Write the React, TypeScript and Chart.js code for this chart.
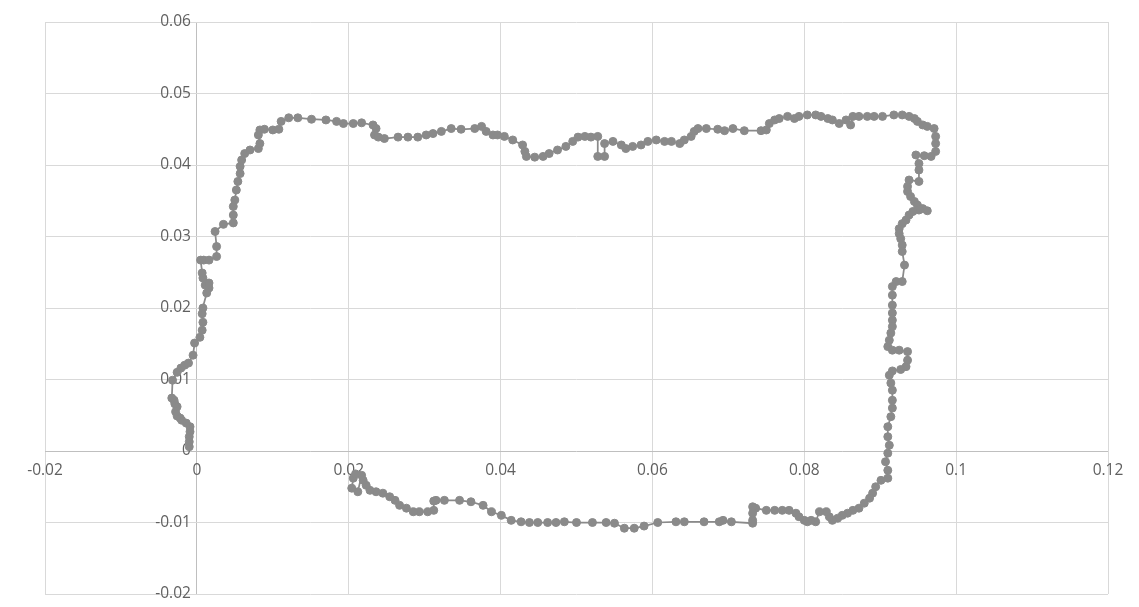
import { useEffect, useRef } from 'react';
import { Chart, registerables } from 'chart.js';

Chart.register(...registerables);

const xValues = [
  -0.0010, -0.0010, -0.0010, -0.0009, -0.0009, -0.0014, -0.0020, -0.0022, -0.0026, -0.0028,
  -0.0026, -0.0029, -0.0030, -0.0033, -0.0032, -0.0026, -0.0021, -0.0016, -0.0011, -0.0005,
  -0.0003, 0.0004, 0.0007, 0.0008, 0.0007, 0.0008, 0.0013, 0.0016, 0.0011, 0.0016,
  0.0008, 0.0007, 0.0005, 0.0009, 0.0016, 0.0026, 0.0026, 0.0024, 0.0035, 0.0048,
  0.0048, 0.0048, 0.0050, 0.0052, 0.0054, 0.0057, 0.0057, 0.0059, 0.0063, 0.0070,
  0.0081, 0.0083, 0.0081, 0.0083, 0.0089, 0.0100, 0.0108, 0.0111, 0.0121, 0.0133,
  0.0151, 0.0170, 0.0184, 0.0193, 0.0206, 0.0217, 0.0232, 0.0236, 0.0234, 0.0239,
  0.0247, 0.0265, 0.0278, 0.0291, 0.0302, 0.0311, 0.0322, 0.0335, 0.0348, 0.0366,
  0.0375, 0.0381, 0.0390, 0.0396, 0.0405, 0.0416, 0.0429, 0.0432, 0.0434, 0.0445,
  0.0456, 0.0464, 0.0475, 0.0486, 0.0495, 0.0502, 0.0511, 0.0519, 0.0528, 0.0528,
  0.0537, 0.0537, 0.0548, 0.0559, 0.0565, 0.0574, 0.0585, 0.0594, 0.0605, 0.0616,
  0.0625, 0.0636, 0.0642, 0.0651, 0.0655, 0.0660, 0.0671, 0.0686, 0.0695, 0.0706,
  0.0721, 0.0743, 0.0750, 0.0754, 0.0761, 0.0767, 0.0778, 0.0787, 0.0793, 0.0804,
  0.0815, 0.0822, 0.0831, 0.0837, 0.0846, 0.0855, 0.0861, 0.0864, 0.0872, 0.0883,
  0.0892, 0.0903, 0.0918, 0.0929, 0.0938, 0.0945, 0.0949, 0.0956, 0.0962, 0.0971,
  0.0973, 0.0973, 0.0973, 0.0967, 0.0958, 0.0947, 0.0951, 0.0951, 0.0951, 0.0938,
  0.0936, 0.0936, 0.0940, 0.0945, 0.0949, 0.0956, 0.0962, 0.0951, 0.0943, 0.0938,
  0.0934, 0.0929, 0.0925, 0.0925, 0.0927, 0.0929, 0.0929, 0.0932, 0.0929, 0.0921,
  0.0916, 0.0916, 0.0916, 0.0916, 0.0916, 0.0916, 0.0914, 0.0912, 0.0910, 0.0916,
  0.0925, 0.0936, 0.0936, 0.0934, 0.0927, 0.0916, 0.0912, 0.0914, 0.0916, 0.0916,
  0.0916, 0.0914, 0.0910, 0.0910, 0.0912, 0.0910, 0.0907, 0.0910, 0.0910, 0.0901,
  0.0894, 0.0890, 0.0886, 0.0879, 0.0872, 0.0864, 0.0857, 0.0850, 0.0844, 0.0837,
  0.0833, 0.0829, 0.0820, 0.0815, 0.0809, 0.0804, 0.0800, 0.0793, 0.0789, 0.0780,
  0.0771, 0.0761, 0.0750, 0.0736, 0.0732, 0.0732, 0.0732, 0.0732, 0.0704, 0.0693,
  0.0688, 0.0668, 0.0642, 0.0631, 0.0607, 0.0589, 0.0576, 0.0563, 0.0550, 0.0539,
  0.0521, 0.0500, 0.0484, 0.0473, 0.0462, 0.0449, 0.0438, 0.0427, 0.0414, 0.0401,
  0.0388, 0.0377, 0.0361, 0.0346, 0.0326, 0.0315, 0.0312, 0.0312, 0.0304, 0.0293,
  0.0285, 0.0276, 0.0267, 0.0261, 0.0254, 0.0245, 0.0236, 0.0228, 0.0223, 0.0219,
  0.0217, 0.0212, 0.0204, 0.0206, 0.0209,
];

const yValues = [
  0.0006, 0.0013, 0.0020, 0.0027, 0.0034, 0.0039, 0.0043, 0.0046, 0.0049, 0.0055,
  0.0062, 0.0066, 0.0071, 0.0074, 0.0099, 0.0110, 0.0116, 0.0120, 0.0123, 0.0134,
  0.0151, 0.0159, 0.0169, 0.0180, 0.0192, 0.0200, 0.0221, 0.0228, 0.0232, 0.0235,
  0.0242, 0.0249, 0.0267, 0.0267, 0.0267, 0.0272, 0.0286, 0.0307, 0.0317, 0.0319,
  0.0330, 0.0342, 0.0351, 0.0365, 0.0377, 0.0388, 0.0398, 0.0407, 0.0416, 0.0421,
  0.0423, 0.0430, 0.0442, 0.0449, 0.0450, 0.0449, 0.0450, 0.0461, 0.0466, 0.0466,
  0.0464, 0.0463, 0.0461, 0.0458, 0.0458, 0.0459, 0.0456, 0.0451, 0.0442, 0.0439,
  0.0437, 0.0439, 0.0439, 0.0439, 0.0442, 0.0444, 0.0447, 0.0451, 0.0450, 0.0451,
  0.0454, 0.0447, 0.0442, 0.0442, 0.0440, 0.0435, 0.0428, 0.0419, 0.0412, 0.0411,
  0.0412, 0.0416, 0.0421, 0.0426, 0.0433, 0.0439, 0.0440, 0.0439, 0.0440, 0.0412,
  0.0412, 0.0430, 0.0433, 0.0428, 0.0423, 0.0426, 0.0428, 0.0433, 0.0435, 0.0433,
  0.0433, 0.0430, 0.0435, 0.0440, 0.0447, 0.0451, 0.0451, 0.0450, 0.0448, 0.0451,
  0.0448, 0.0448, 0.0449, 0.0458, 0.0463, 0.0465, 0.0468, 0.0465, 0.0468, 0.0470,
  0.0470, 0.0468, 0.0465, 0.0463, 0.0458, 0.0463, 0.0456, 0.0468, 0.0468, 0.0468,
  0.0468, 0.0468, 0.0470, 0.0470, 0.0468, 0.0465, 0.0461, 0.0456, 0.0454, 0.0451,
  0.0440, 0.0430, 0.0419, 0.0412, 0.0413, 0.0414, 0.0402, 0.0393, 0.0377, 0.0379,
  0.0370, 0.0363, 0.0356, 0.0349, 0.0344, 0.0339, 0.0336, 0.0337, 0.0335, 0.0330,
  0.0323, 0.0318, 0.0311, 0.0304, 0.0297, 0.0288, 0.0279, 0.0260, 0.0237, 0.0237,
  0.0230, 0.0218, 0.0204, 0.0193, 0.0183, 0.0174, 0.0165, 0.0155, 0.0146, 0.0141,
  0.0141, 0.0139, 0.0127, 0.0118, 0.0114, 0.0112, 0.0106, 0.0095, 0.0085, 0.0071,
  0.0060, 0.0048, 0.0034, 0.0020, 0.0008, -0.0003, -0.0015, -0.0027, -0.0038, -0.0041,
  -0.0050, -0.0059, -0.0066, -0.0073, -0.0080, -0.0083, -0.0087, -0.0090, -0.0094, -0.0097,
  -0.0092, -0.0085, -0.0085, -0.0099, -0.0097, -0.0099, -0.0097, -0.0092, -0.0087, -0.0083,
  -0.0083, -0.0083, -0.0083, -0.0080, -0.0078, -0.0087, -0.0097, -0.0101, -0.0099, -0.0097,
  -0.0099, -0.0099, -0.0099, -0.0099, -0.0100, -0.0105, -0.0108, -0.0108, -0.0101, -0.0100,
  -0.0100, -0.0100, -0.0099, -0.0100, -0.0100, -0.0100, -0.0100, -0.0099, -0.0097, -0.0090,
  -0.0085, -0.0076, -0.0071, -0.0069, -0.0069, -0.0069, -0.0070, -0.0083, -0.0085, -0.0085,
  -0.0085, -0.0080, -0.0076, -0.0069, -0.0064, -0.0059, -0.0057, -0.0055, -0.0048, -0.0041,
  -0.0034, -0.0057, -0.0052, -0.0038, -0.0032,
];

const xTicks = [-0.02, 0, 0.02, 0.04, 0.06, 0.08, 0.1, 0.12];
const xTickLabels = ['-0.02', '0', '0.02', '0.04', '0.06', '0.08', '0.1', '0.12'];
const yTicks = [-0.02, -0.01, 0, 0.01, 0.02, 0.03, 0.04, 0.05, 0.06];
const yTickLabels = ['-0.02', '-0.01', '0', '0.01', '0.02', '0.03', '0.04', '0.05', '0.06'];

const LINE_COLOR = '#8a8a8a';
const GRID_COLOR = '#d9d9d9';
const AXIS_COLOR = '#bfbfbf';
const LABEL_COLOR = '#606060';

export default function App() {
  const ref = useRef<HTMLCanvasElement>(null);

  useEffect(() => {
    if (!ref.current) return;
    const points = xValues.map((x, i) => ({ x, y: yValues[i] }));

    const labelPlugin = {
      id: 'crossAxisLabels',
      beforeDatasetsDraw(chart: any) {
        const { ctx, scales } = chart;
        const xs = scales.x;
        const ys = scales.y;
        const x0 = xs.getPixelForValue(0);
        const y0 = ys.getPixelForValue(0);
        ctx.save();
        ctx.font = '15.5px "Open Sans", sans-serif';
        ctx.fillStyle = LABEL_COLOR;
        ctx.textAlign = 'right';
        ctx.textBaseline = 'middle';
        yTicks.forEach((v, i) => {
          ctx.fillText(yTickLabels[i], x0 - 6, ys.getPixelForValue(v));
        });
        ctx.textAlign = 'center';
        ctx.textBaseline = 'middle';
        xTicks.forEach((v, i) => {
          ctx.fillText(xTickLabels[i], xs.getPixelForValue(v), y0 + 20);
        });
        ctx.restore();
      },
    };

    const gridColor = (c: any) =>
      c.tick && Math.abs(c.tick.value) < 1e-9 ? AXIS_COLOR : GRID_COLOR;

    const chart = new Chart(ref.current, {
      type: 'scatter',
      data: {
        datasets: [
          {
            data: points,
            showLine: true,
            borderColor: LINE_COLOR,
            borderWidth: 1.75,
            backgroundColor: LINE_COLOR,
            pointBackgroundColor: LINE_COLOR,
            pointBorderColor: LINE_COLOR,
            pointBorderWidth: 1,
            pointRadius: 4,
            tension: 0,
          },
        ],
      },
      options: {
        responsive: false,
        animation: false,
        layout: { padding: { left: 45, right: 31, top: 22, bottom: 13 } },
        plugins: {
          legend: { display: false },
          tooltip: { enabled: false },
        },
        scales: {
          x: {
            type: 'linear',
            min: -0.02,
            max: 0.12,
            ticks: { display: false, stepSize: 0.02 },
            grid: { color: gridColor, drawTicks: false, lineWidth: 1 },
            border: { display: false },
            afterFit: (s: any) => {
              s.height = 0;
            },
          },
          y: {
            type: 'linear',
            min: -0.02,
            max: 0.06,
            ticks: { display: false, stepSize: 0.01 },
            grid: { color: gridColor, drawTicks: false, lineWidth: 1 },
            border: { display: false },
            afterFit: (s: any) => {
              s.width = 0;
            },
          },
        },
      },
      plugins: [labelPlugin],
    });

    return () => chart.destroy();
  }, []);

  return (
    <div style={{ position: 'fixed', left: 0, top: 0, width: 1139, height: 607, background: '#fff' }}>
      <canvas ref={ref} width={1139} height={607} style={{ width: 1139, height: 607, display: 'block' }} />
    </div>
  );
}
